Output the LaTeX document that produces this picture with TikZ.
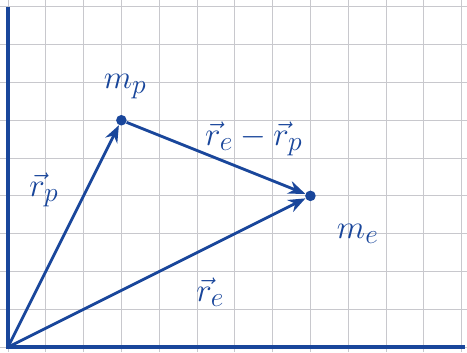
\documentclass[tikz,border=0pt]{standalone}
\usepackage{xcolor}
\usepackage{amsmath}
\usepackage{tikz}
\usetikzlibrary{arrows.meta, positioning}
\definecolor{ink}{RGB}{25,70,155}
\definecolor{gridgray}{RGB}{200,200,205}
\tikzstyle{gridline} = [draw=gridgray, line width=0.6pt]
\tikzstyle{axis}     = [draw=ink, line width=2.6pt]
\tikzstyle{vec}      = [-{Stealth[length=4.5mm, width=3.5mm]}, draw=ink, line width=2.1pt]
\tikzstyle{mass}     = [circle, fill=ink, inner sep=0pt, minimum size=2.8mm]
\tikzstyle{lbl}      = [text=ink, font=\fontsize{28}{32}\selectfont]

\begin{document}
\begin{tikzpicture}
    \useasboundingbox (-0.21,-0.13) rectangle (12.14,9.18);
    \fill[white] (-0.21,-0.13) rectangle (12.14,9.18);
    \draw[gridline] (-0.21,-0.13) grid (12.14,9.18);

    \coordinate (O) at (0,0);
    \coordinate (ytop) at (0,9.0);
    \coordinate (xend) at (12.1,0);
    \draw[axis] (ytop) -- (O) -- (xend);

    \node[mass] (mp) at (3,6) {};
    \node[mass] (me) at (8,4) {};

    \node[lbl] (mplbl) at (3.1,6.9) {$m_p$};
    \node[lbl] (melbl) at (9.25,3.0) {$m_e$};
    \node[lbl] (rplbl) at (0.95,4.15) {$\vec r_p$};
    \node[lbl] (relbl) at (5.35,1.45) {$\vec r_e$};
    \node[lbl] (dlbl)  at (6.5,5.5) {$\vec r_e - \vec r_p$};

    \draw[vec] (O) -- (mp);
    \draw[vec] (O) -- (me);
    \draw[vec] (mp) -- (me);
\end{tikzpicture}
\end{document}
